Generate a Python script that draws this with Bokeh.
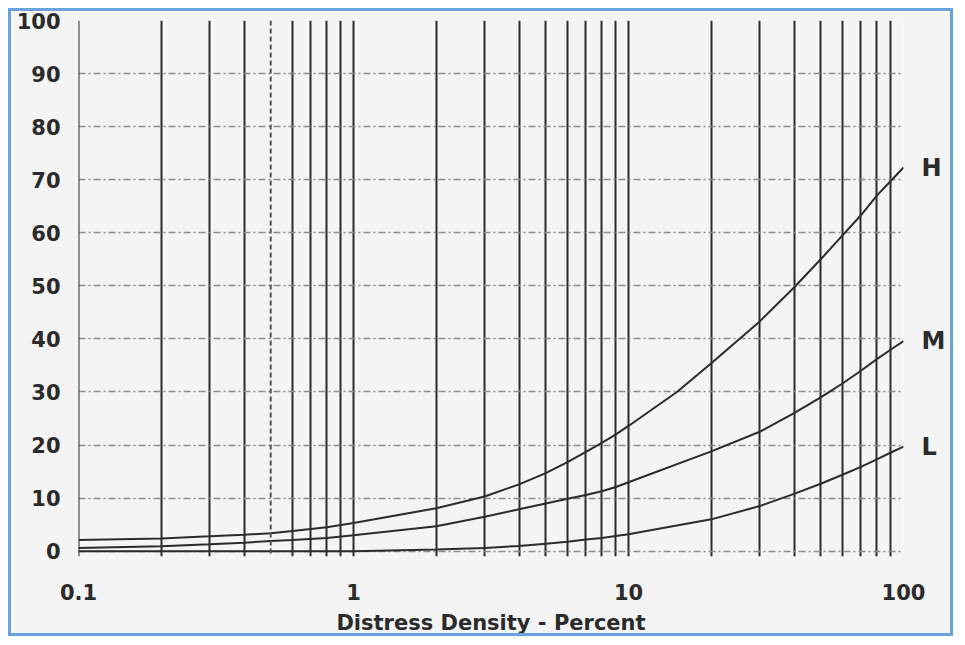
from bokeh.plotting import figure
from bokeh.models import FixedTicker, Span, Range1d, LinearAxis
from bokeh.embed import file_html
from bokeh.resources import INLINE

# ---- data ----
x_high = [0.1, 0.2, 0.3, 0.4, 0.5, 0.6, 0.8, 1, 2, 3, 4, 5, 6, 7, 8, 9, 10, 15, 20, 30, 40, 50, 60, 70, 80, 90, 100]
y_high = [2.1, 2.4, 2.8, 3.1, 3.4, 3.8, 4.5, 5.3, 8.1, 10.3, 12.6, 14.7, 16.8, 18.7, 20.4, 22.0, 23.6, 30.0, 35.4, 43.3, 49.7, 55.0, 59.5, 63.3, 67.0, 69.8, 72.3]

x_med = [0.1, 0.2, 0.3, 0.4, 0.5, 0.6, 0.8, 1, 2, 3, 4, 5, 6, 7, 8, 9, 10, 20, 30, 40, 50, 60, 70, 80, 90, 100]
y_med = [0.6, 0.95, 1.3, 1.6, 1.9, 2.1, 2.5, 3.0, 4.7, 6.5, 7.9, 9.0, 9.9, 10.6, 11.3, 12.1, 13.0, 18.8, 22.5, 26.0, 29.0, 31.6, 34.0, 36.2, 38.0, 39.6]

x_low = [0.1, 0.3, 1, 2, 3, 4, 5, 6, 7, 8, 9, 10, 20, 30, 40, 50, 60, 70, 80, 90, 100]
y_low = [0.0, 0.0, 0.0, 0.3, 0.6, 1.0, 1.4, 1.8, 2.2, 2.5, 2.85, 3.2, 6.0, 8.5, 10.8, 12.7, 14.4, 15.9, 17.3, 18.6, 19.7]

series_names = ["H", "M", "L"]

x_ticks = [0.1, 1, 10, 100]
x_tick_labels = ["0.1", "1", "10", "100"]
y_ticks = [0, 10, 20, 30, 40, 50, 60, 70, 80, 90, 100]
y_grid = [0, 10, 20, 30, 40, 50, 60, 70, 80, 90]
x_grid = [0.1, 0.2, 0.3, 0.4, 0.6, 0.7, 0.8, 0.9,
          1, 2, 3, 4, 5, 6, 7, 8, 9,
          10, 20, 30, 40, 50, 60, 70, 80, 90, 100]
x_grid_dashed = [0.5]
x_title = "Distress Density - Percent"

INK = "#2b2b2b"
BG = "#f4f4f4"
FONT = "DejaVu Sans"

p = figure(width=945, height=628, x_axis_type="log",
           x_range=Range1d(0.1, 100), y_range=Range1d(-1, 100),
           output_backend="svg", toolbar_location=None,
           min_border_left=67, min_border_right=53,
           min_border_top=9, min_border_bottom=83,
           background_fill_color=BG, border_fill_color=BG)
p.styles = {"border": "3px solid #6aa3dc", "margin-left": "8px", "margin-top": "8px"}
p.outline_line_color = None

# grids
p.xgrid.ticker = FixedTicker(ticks=x_grid)
p.xgrid.grid_line_color = INK
p.xgrid.grid_line_width = 2
p.ygrid.ticker = FixedTicker(ticks=y_grid)
p.ygrid.grid_line_color = "#8c8c8c"
p.ygrid.grid_line_width = 1.5
p.ygrid.grid_line_dash = "7 3 2 3"
for xv in x_grid_dashed:
    p.add_layout(Span(location=xv, dimension="height", line_color="#555555",
                      line_width=2, line_dash="5 3"))
# first grid line sits on the frame edge: draw it as a span so it shows fully
p.add_layout(Span(location=x_grid[0], dimension="height", line_color=INK, line_width=2))

# axes
p.xaxis.ticker = FixedTicker(ticks=x_ticks)
p.xaxis.major_label_overrides = {t: l for t, l in zip(x_ticks, x_tick_labels)}
p.yaxis.ticker = FixedTicker(ticks=y_ticks)

# right-hand axis carrying the series names at each curve's end value
ends = [ys[-1] for ys in (y_high, y_med, y_low)]
rax = LinearAxis(ticker=FixedTicker(ticks=ends),
                 major_label_overrides={e: n for e, n in zip(ends, series_names)})
p.add_layout(rax, "right")

for ax in (p.xaxis[0], p.yaxis[0], rax):
    ax.axis_line_color = None
    ax.major_tick_line_color = None
    ax.minor_tick_line_color = None
    ax.major_tick_out = 0
    ax.major_tick_in = 0
    ax.minor_tick_out = 0
    ax.major_label_text_font = FONT
    ax.major_label_text_font_style = "bold"
    ax.major_label_text_font_size = "21px"
    ax.major_label_text_color = INK
rax.major_label_text_font_size = "24px"
rax.major_label_standoff = 24
p.xaxis.major_label_standoff = 27
p.yaxis.major_label_standoff = 18
p.xaxis.axis_label = x_title
p.xaxis.axis_label_text_font = FONT
p.xaxis.axis_label_text_font_style = "bold"
p.xaxis.axis_label_text_font_size = "21px"
p.xaxis.axis_label_text_color = INK
p.xaxis.axis_label_standoff = 8

# curves
for xs, ys in zip([x_high, x_med, x_low], [y_high, y_med, y_low]):
    p.line(xs, ys, line_color=INK, line_width=2)

open("out.html", "w").write(file_html(p, INLINE))
